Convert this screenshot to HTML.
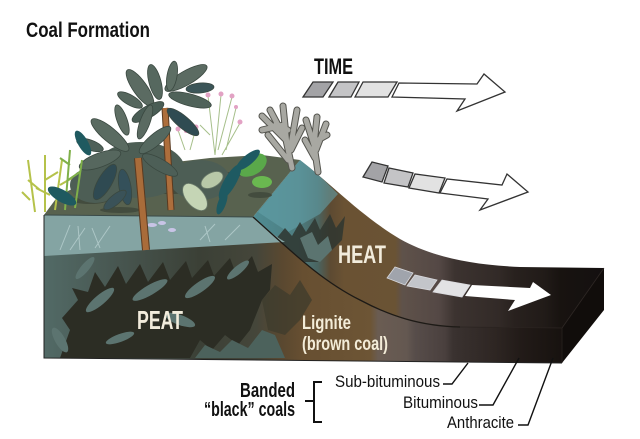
<!DOCTYPE html>
<html>
<head>
<meta charset="utf-8">
<style>
html,body{margin:0;padding:0;background:#fff;}
svg{display:block;}
text{font-family:"Liberation Sans Narrow","Liberation Sans",sans-serif;}
</style>
</head>
<body>
<svg width="640" height="439" viewBox="0 0 640 439" xmlns="http://www.w3.org/2000/svg">
<defs>
  <linearGradient id="frontG" gradientUnits="userSpaceOnUse" x1="44" y1="0" x2="562" y2="0">
    <stop offset="0" stop-color="#526a66"/>
    <stop offset="0.15" stop-color="#47554f"/>
    <stop offset="0.30" stop-color="#3b4036"/>
    <stop offset="0.41" stop-color="#45463a"/>
    <stop offset="0.46" stop-color="#5a4830"/>
    <stop offset="0.50" stop-color="#674f31"/>
    <stop offset="0.63" stop-color="#6d5535"/>
    <stop offset="0.645" stop-color="#6a5c52"/>
    <stop offset="0.70" stop-color="#645851"/>
    <stop offset="0.716" stop-color="#574d4a"/>
    <stop offset="0.774" stop-color="#4a403e"/>
    <stop offset="0.79" stop-color="#3a3230"/>
    <stop offset="0.87" stop-color="#2e2623"/>
    <stop offset="0.92" stop-color="#221b18"/>
    <stop offset="1" stop-color="#17120f"/>
  </linearGradient>
  <linearGradient id="topG" gradientUnits="userSpaceOnUse" x1="253" y1="0" x2="604" y2="0">
    <stop offset="0" stop-color="#4f8c93"/>
    <stop offset="0.13" stop-color="#4e7d80"/>
    <stop offset="0.185" stop-color="#4a6460"/>
    <stop offset="0.22" stop-color="#5d4a32"/>
    <stop offset="0.26" stop-color="#6a5233"/>
    <stop offset="0.405" stop-color="#6a5334"/>
    <stop offset="0.425" stop-color="#5f524a"/>
    <stop offset="0.53" stop-color="#544845"/>
    <stop offset="0.575" stop-color="#3c3330"/>
    <stop offset="0.70" stop-color="#322a27"/>
    <stop offset="0.746" stop-color="#28211e"/>
    <stop offset="0.83" stop-color="#211b18"/>
    <stop offset="0.875" stop-color="#181310"/>
    <stop offset="1" stop-color="#141010"/>
  </linearGradient>
</defs>

<rect width="640" height="439" fill="#fff"/>

<!-- Title -->
<text x="26" y="37" font-size="21" font-weight="bold" fill="#111" textLength="124" lengthAdjust="spacingAndGlyphs">Coal Formation</text>

<!-- Slope top surface -->
<path d="M253,217 C290,250 320,280 360,300 C390,316 420,326 460,327 L562,328 L604,268 L520,267 C470,265 430,256 400,239 C360,215 330,183 300,160 Z" fill="url(#topG)"/>
<!-- teal water on slope top -->
<path d="M258,212 L300,160 C318,174 328,184 338,194 L320,214 L288,232 Z" fill="#62a0a8" opacity="0.6"/>
<!-- dark zigzag shapes on slope top -->
<path d="M275,240 L285,228 L292,236 L300,222 L306,232 L315,218 L320,230 L330,214 L336,228 L345,216 L342,240 L330,252 L318,262 L305,262 Z" fill="#2f3630" opacity="0.85"/>
<path d="M300,238 L312,232 L318,245 L328,236 L332,250 L320,262 L308,258 Z" fill="#5b7470"/>

<!-- Front face -->
<path d="M44,215 L253,217 C290,250 320,280 360,300 C390,316 420,326 460,327 L562,328 L562,363 L44,358 Z" fill="url(#frontG)"/>

<!-- peat dark fern mass -->
<path d="M60,358 L70,330 L62,318 L78,300 L72,288 L88,292 L95,272 L105,287 L118,266 L126,284 L140,264 L148,282 L163,262 L170,280 L186,261 L192,278 L208,260 L214,276 L230,258 L236,274 L252,256 L258,272 L272,264 L270,290 L262,300 L250,330 L238,345 L225,335 L212,350 L200,340 L190,358 Z" fill="#2c2d24"/>
<g fill="#5c7470">
  <ellipse cx="100" cy="300" rx="18" ry="5" transform="rotate(-40 100 300)"/>
  <ellipse cx="150" cy="290" rx="20" ry="5" transform="rotate(-30 150 290)"/>
  <ellipse cx="200" cy="287" rx="18" ry="5" transform="rotate(-35 200 287)"/>
  <ellipse cx="120" cy="338" rx="15" ry="4" transform="rotate(-20 120 338)"/>
  <ellipse cx="180" cy="320" rx="16" ry="5" transform="rotate(20 180 320)"/>
  <ellipse cx="60" cy="340" rx="14" ry="5" transform="rotate(60 60 340)"/>
  <ellipse cx="85" cy="268" rx="14" ry="4" transform="rotate(-50 85 268)"/>
  <ellipse cx="238" cy="270" rx="14" ry="4" transform="rotate(-40 238 270)"/>
</g>
<path d="M195,358 L205,345 L220,352 L232,340 L248,348 L262,330 L275,335 L285,358 Z" fill="#4c625c"/>
<path d="M262,300 L275,285 L290,295 L300,280 L312,300 L300,320 L285,335 L268,330 Z" fill="#3c3a2c" opacity="0.7"/>

<!-- Right face -->
<path d="M562,328 L604,268 L604,310 L562,363 Z" fill="#110d0b"/>
<path d="M562,328 L604,268" stroke="#2e2724" stroke-width="0.8" fill="none"/>
<path d="M460,327 L562,328 L562,363" stroke="#2a2320" stroke-width="0.8" fill="none"/>

<!-- Plateau ground -->
<path d="M44,215 L58,196 L90,180 L150,165 L210,158 L262,155 L300,160 L253,217 Z" fill="#58624f"/>
<g fill="#434c3e">
  <ellipse cx="90" cy="200" rx="18" ry="4"/>
  <ellipse cx="170" cy="190" rx="22" ry="4"/>
  <ellipse cx="225" cy="175" rx="16" ry="3"/>
  <ellipse cx="120" cy="210" rx="20" ry="3"/>
  <ellipse cx="260" cy="195" rx="12" ry="3"/>
</g>

<!-- Plateau water front face -->
<path d="M44,215 L253,217 C262,226 272,234 285,242 L44,256 Z" fill="#84a4a3"/>
<g stroke="#b8d0d0" stroke-width="1" fill="none" opacity="0.8">
  <path d="M60,250 L70,225 M70,250 L85,228 M80,250 L78,226 M95,248 L110,226 M100,248 L92,228 M200,240 L215,224 M210,242 L205,226 M225,240 L240,225"/>
</g>
<g fill="#c8c4e6">
  <ellipse cx="152" cy="225" rx="5" ry="2"/>
  <ellipse cx="162" cy="223" rx="4" ry="2"/>
  <ellipse cx="172" cy="230" rx="4" ry="2"/>
</g>
<path d="M44,215 L253,217" stroke="#3a4a48" stroke-width="1" fill="none"/>

<!-- Front top edge line -->
<path d="M253,217 C290,250 320,280 360,300 C390,316 420,326 460,327" stroke="#1d1a16" stroke-width="1.3" fill="none"/>
<!-- block outline -->
<path d="M44,215 L44,358 L562,363" stroke="#222" stroke-width="1" fill="none"/>

<!-- Pink flower stems -->
<g stroke="#a6bf8a" stroke-width="1" fill="none">
  <path d="M215,155 L208,96 M215,155 L221,95 M218,150 L232,97 M222,155 L240,123 M226,150 L236,108 M210,135 L200,125"/>
  <path d="M185,150 L178,130 M190,150 L196,128"/>
</g>
<g fill="#e2a2c4">
  <circle cx="208" cy="95" r="2.5"/><circle cx="221" cy="94" r="2.5"/><circle cx="232" cy="96" r="2.5"/>
  <circle cx="240" cy="122" r="2.5"/><circle cx="236" cy="107" r="2"/><circle cx="178" cy="129" r="2.5"/>
  <circle cx="196" cy="127" r="2.5"/><circle cx="186" cy="131" r="2"/>
</g>

<!-- Background bush mass -->
<g fill="#4d5e55">
  <ellipse cx="140" cy="170" rx="45" ry="28"/>
  <ellipse cx="200" cy="180" rx="30" ry="20"/>
  <ellipse cx="95" cy="185" rx="25" ry="18"/>
</g>

<!-- Palm 2 -->
<path d="M165,108 L171,210" stroke="#5a3a20" stroke-width="7" fill="none"/>
<path d="M165,108 L171,210" stroke="#ad6e3c" stroke-width="5" fill="none"/>
<g stroke="#3a4840" stroke-width="0.8">
  <ellipse cx="186" cy="78" rx="24" ry="7" transform="rotate(-30 186 78)" fill="#5b6b62"/>
  <ellipse cx="190" cy="100" rx="22" ry="6" transform="rotate(15 190 100)" fill="#4f6259"/>
  <ellipse cx="183" cy="122" rx="20" ry="6" transform="rotate(40 183 122)" fill="#2f4b52"/>
  <ellipse cx="140" cy="88" rx="22" ry="7" transform="rotate(55 140 88)" fill="#5b6b62"/>
  <ellipse cx="155" cy="82" rx="18" ry="6" transform="rotate(75 155 82)" fill="#56685f"/>
  <ellipse cx="172" cy="76" rx="15" ry="5" transform="rotate(-80 172 76)" fill="#5d6e64"/>
  <ellipse cx="148" cy="112" rx="18" ry="6" transform="rotate(-30 148 112)" fill="#4a5d55"/>
  <ellipse cx="200" cy="88" rx="14" ry="5" transform="rotate(-5 200 88)" fill="#3b5558"/>
  <ellipse cx="130" cy="100" rx="14" ry="5" transform="rotate(30 130 100)" fill="#55665d"/>
</g>

<!-- Palm 1 -->
<path d="M138,158 L146,250" stroke="#5a3a20" stroke-width="8" fill="none"/>
<path d="M138,158 L146,250" stroke="#a96c3a" stroke-width="6" fill="none"/>
<g stroke="#3a4840" stroke-width="0.8">
  <ellipse cx="110" cy="135" rx="24" ry="7" transform="rotate(40 110 135)" fill="#5a6b61"/>
  <ellipse cx="100" cy="160" rx="22" ry="7" transform="rotate(-20 100 160)" fill="#56675e"/>
  <ellipse cx="105" cy="182" rx="20" ry="7" transform="rotate(-60 105 182)" fill="#2f4a52"/>
  <ellipse cx="155" cy="140" rx="20" ry="6" transform="rotate(-40 155 140)" fill="#55685f"/>
  <ellipse cx="160" cy="165" rx="20" ry="6" transform="rotate(30 160 165)" fill="#4d5f57"/>
  <ellipse cx="125" cy="187" rx="18" ry="6" transform="rotate(80 125 187)" fill="#34505a"/>
  <ellipse cx="145" cy="122" rx="18" ry="5" transform="rotate(-70 145 122)" fill="#5a6a61"/>
  <ellipse cx="122" cy="120" rx="16" ry="5" transform="rotate(70 122 120)" fill="#5e6e64"/>
  <ellipse cx="90" cy="145" rx="14" ry="5" transform="rotate(20 90 145)" fill="#4f6159"/>
  <ellipse cx="115" cy="200" rx="14" ry="5" transform="rotate(-40 115 200)" fill="#3a5258"/>
</g>

<!-- Coral gray plants -->
<g fill="none" stroke-linecap="round">
  <path d="M292,168 L286,140 L262,116 M286,140 L270,110 M287,145 L283,106 M290,150 L297,110 M288,130 L276,124 M288,160 L268,135 M291,150 L302,128 M284,125 L262,130" stroke="#55554f" stroke-width="7"/>
  <path d="M292,168 L286,140 L262,116 M286,140 L270,110 M287,145 L283,106 M290,150 L297,110 M288,130 L276,124 M288,160 L268,135 M291,150 L302,128 M284,125 L262,130" stroke="#a8a8a2" stroke-width="5"/>
  <path d="M318,172 L314,145 L306,120 M314,145 L317,117 M316,150 L326,124 M315,158 L305,140 M318,140 L327,135" stroke="#55554f" stroke-width="7"/>
  <path d="M318,172 L314,145 L306,120 M314,145 L317,117 M316,150 L326,124 M315,158 L305,140 M318,140 L327,135" stroke="#a8a8a2" stroke-width="5"/>
</g>

<!-- Yellow-green left plants -->
<g stroke="#b5c24a" stroke-width="2" fill="none">
  <path d="M35,212 L28,160 M45,212 L45,155 M55,210 L62,160 M40,190 L28,180 M45,180 L58,172 M50,195 L36,188 M60,185 L72,178 M30,200 L22,192"/>
</g>
<g stroke="#7fb04a" stroke-width="2" fill="none">
  <path d="M65,210 L70,150 M75,208 L82,160 M68,180 L80,172 M70,165 L60,158"/>
</g>
<ellipse cx="62" cy="196" rx="16" ry="6" transform="rotate(30 62 196)" fill="#1f5a60"/>
<ellipse cx="83" cy="143" rx="14" ry="5" transform="rotate(60 83 143)" fill="#1f5a60"/>

<!-- Green fern -->
<ellipse cx="252" cy="165" rx="16" ry="10" transform="rotate(-30 252 165)" fill="#5aa84a"/>
<ellipse cx="262" cy="182" rx="10" ry="6" fill="#6ab850"/>
<!-- Teal leaves -->
<g fill="#1e5a62">
  <ellipse cx="230" cy="182" rx="20" ry="6" transform="rotate(-60 230 182)"/>
  <ellipse cx="248" cy="160" rx="15" ry="5" transform="rotate(-40 248 160)"/>
  <ellipse cx="222" cy="203" rx="12" ry="4" transform="rotate(-70 222 203)"/>
</g>
<!-- Pale leaves -->
<ellipse cx="195" cy="197" rx="16" ry="9" transform="rotate(50 195 197)" fill="#c5d5b5" stroke="#6a7a6a" stroke-width="0.8"/>
<ellipse cx="212" cy="180" rx="12" ry="7" transform="rotate(-30 212 180)" fill="#b8c8a8" stroke="#6a7a6a" stroke-width="0.8"/>

<!-- TIME arrow -->
<text x="314" y="74" font-size="22" font-weight="bold" fill="#111" textLength="39" lengthAdjust="spacingAndGlyphs">TIME</text>
<g stroke="#333" stroke-width="1.3" stroke-linejoin="miter">
  <polygon points="303,97 313,82 333,82 323,97" fill="#a3a3a6"/>
  <polygon points="329,97 338,82 359,82 351,97" fill="#c4c4c6"/>
  <polygon points="355,97 363,82 397,82 388,97" fill="#e2e2e2"/>
  <polygon points="392,97 399,83 477,84 484,74 505,92 457,111 465,99" fill="#fff"/>
</g>

<!-- Second arrow -->
<g stroke="#333" stroke-width="1.3">
  <polygon points="363,177 372,162 388,166 382,182" fill="#a3a3a6"/>
  <polygon points="384,183 389,168 413,173 408,187" fill="#c4c4c6"/>
  <polygon points="409,188 415,174 445,178 439,193" fill="#e2e2e2"/>
  <polygon points="440,193 447,179 502,185 507,174 528,192 480,210 488,199" fill="#fff"/>
</g>

<!-- HEAT arrow -->
<g stroke="#d8d8dc" stroke-width="0.8">
  <polygon points="387,278 395,267 413,273 405,285" fill="#a0a4ac"/>
  <polygon points="407,286 415,275 437,280 430,290" fill="#c3c5ca"/>
  <polygon points="433,292 442,280 470,285 462,297" fill="#e2e2e4"/>
</g>
<polygon points="465,296 472,285 530,288 533,282 551,295 508,311 515,300" fill="#fff"/>

<!-- Block labels -->
<text x="338" y="263" font-size="25" font-weight="bold" fill="#f2ecdc" textLength="48" lengthAdjust="spacingAndGlyphs">HEAT</text>
<text x="137" y="329" font-size="26" font-weight="bold" fill="#f2ecdc" textLength="46" lengthAdjust="spacingAndGlyphs">PEAT</text>
<text x="302" y="329" font-size="19" font-weight="bold" fill="#f3ecd8" textLength="49" lengthAdjust="spacingAndGlyphs">Lignite</text>
<text x="302" y="350" font-size="19" font-weight="bold" fill="#f3ecd8" textLength="86" lengthAdjust="spacingAndGlyphs">(brown coal)</text>

<!-- Bottom labels -->
<text x="240" y="397" font-size="20" font-weight="bold" fill="#111" textLength="55" lengthAdjust="spacingAndGlyphs">Banded</text>
<text x="204" y="416" font-size="20" font-weight="bold" fill="#111" textLength="91" lengthAdjust="spacingAndGlyphs">“black” coals</text>
<path d="M322,382 L314,382 L314,422 L322,422 M305,401 L314,401" stroke="#111" stroke-width="2" fill="none"/>

<text x="335" y="387" font-size="17" fill="#111" textLength="105" lengthAdjust="spacingAndGlyphs">Sub-bituminous</text>
<text x="403" y="408" font-size="17" fill="#111" textLength="75" lengthAdjust="spacingAndGlyphs">Bituminous</text>
<text x="447" y="428" font-size="17" fill="#111" textLength="67" lengthAdjust="spacingAndGlyphs">Anthracite</text>
<g stroke="#111" stroke-width="1.4" fill="none">
  <path d="M443,384 L452,384 L468,363"/>
  <path d="M479,405 L493,405 L519,358"/>
  <path d="M518,425 L528,425 L553,358"/>
</g>
</svg>
</body>
</html>
